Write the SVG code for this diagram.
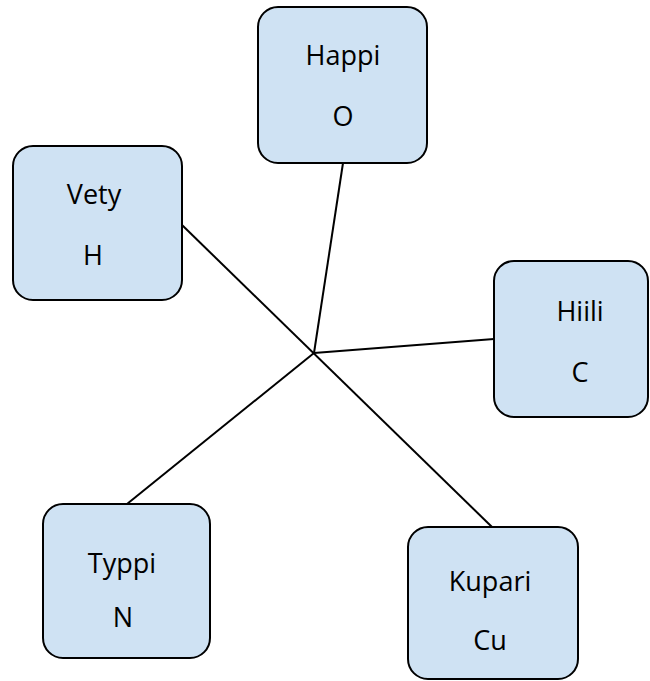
<svg xmlns="http://www.w3.org/2000/svg" width="650" height="681" viewBox="0 0 650 681">
<style>
.box{fill:#cfe2f3;stroke:#000;stroke-width:2}
.lbl{font-family:"Open Sans","Liberation Sans",sans-serif;font-size:27px;fill:#000;text-anchor:middle}
.con{stroke:#000;stroke-width:2;fill:none}
</style>
<rect width="650" height="681" fill="#fff"/>
<g id="connectors">
<line class="con" x1="182" y1="225" x2="492" y2="527"/>
<line class="con" x1="314" y1="353" x2="343" y2="163"/>
<line class="con" x1="314" y1="353" x2="494" y2="339"/>
<line class="con" x1="314" y1="353" x2="127" y2="504"/>
</g>
<g id="happi">
<rect class="box" x="258" y="7" width="169" height="156" rx="20"/>
<text class="lbl" x="343" y="65">Happi</text>
<text class="lbl" x="343" y="126">O</text>
</g>
<g id="vety">
<rect class="box" x="13" y="146" width="169" height="154" rx="20"/>
<text class="lbl" x="94" y="204">Vety</text>
<text class="lbl" x="93" y="265">H</text>
</g>
<g id="hiili">
<rect class="box" x="494" y="261" width="154" height="156" rx="20"/>
<text class="lbl" x="580" y="321">Hiili</text>
<text class="lbl" x="580" y="382">C</text>
</g>
<g id="typpi">
<rect class="box" x="43" y="504" width="167" height="154" rx="20"/>
<text class="lbl" x="122" y="573">Typpi</text>
<text class="lbl" x="123" y="627">N</text>
</g>
<g id="kupari">
<rect class="box" x="408" y="527" width="170" height="152" rx="20"/>
<text class="lbl" x="490" y="591">Kupari</text>
<text class="lbl" x="490" y="650">Cu</text>
</g>
</svg>
